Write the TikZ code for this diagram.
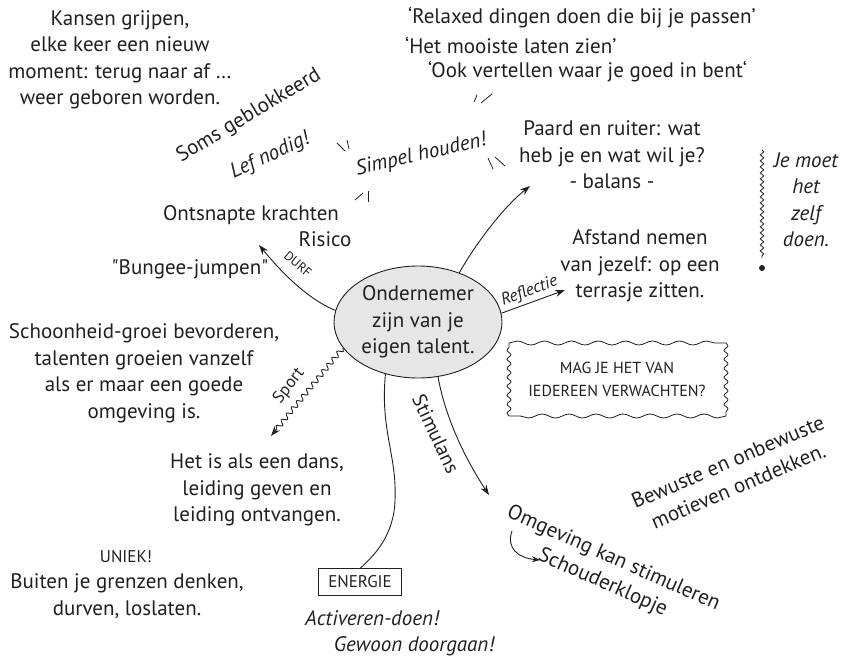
\documentclass[tikz,border=0pt]{standalone}
\usepackage{fontspec}
\setmainfont{PT Sans}[Ligatures=TeXOff]
\usetikzlibrary{shapes.geometric,arrows.meta,decorations.pathmorphing,calc}
\definecolor{ink}{HTML}{231F20}
\definecolor{fillgray}{HTML}{E6E6E6}
\begin{document}
\begin{tikzpicture}[x=1pt,y=-1pt,
  every node/.style={text=ink},
  txt/.style={align=center, font=\fontsize{21}{26.5}\selectfont, inner sep=0pt},
  itx/.style={align=center, font=\fontsize{21}{26.5}\selectfont\itshape, inner sep=0pt},
  smalltxt/.style={align=center, font=\fontsize{17}{22}\selectfont, inner sep=0pt},
  smallit/.style={align=center, font=\fontsize{17}{21}\selectfont\itshape, inner sep=0pt},
  tinytxt/.style={font=\fontsize{13}{15}\selectfont, inner sep=0pt},
  conn/.style={draw=ink, line width=0.9pt},
  arr/.style={conn, -{Stealth[length=10pt,width=7pt]}},
  ticks/.style={draw=ink, line width=0.8pt},
  wavy/.style={draw=ink, line width=0.8pt, decorate}]
\useasboundingbox (0,0) rectangle (842,658);

% centre
\node[ellipse, draw=ink, line width=0.9pt, fill=fillgray, minimum width=168pt, minimum height=112pt, txt] (core) at (418,322) {Ondernemer\\zijn van je\\eigen talent.};

% top left
\node[txt] (kansen) at (120,60) {Kansen grijpen,\\elke keer een nieuw\\moment: terug naar af …\\weer geboren worden.};
\node[txt, rotate=31] (soms) at (249,116) {Soms geblokkeerd};
\node[itx, rotate=25] (lef) at (270,156) {Lef nodig!};
\node[txt] (ontsn) at (251,215) {Ontsnapte krachten};
\node[txt] (risico) at (325,239) {Risico};

% quotes
\node[txt, anchor=west] (q1) at (408,18) {‘Relaxed dingen doen die bij je passen’};
\node[txt, anchor=west] (q2) at (405,45) {‘Het mooiste laten zien’};
\node[txt, anchor=west] (q3) at (428,72) {‘Ook vertellen waar je goed in bent‘};

% simpel houden
\node[itx, rotate=13] (simpel) at (421,155) {Simpel houden!};
\draw[ticks] (337,143) -- (345,151);
\draw[ticks] (347,140) -- (349,149);
\draw[ticks] (355,200) -- (363,193);
\draw[ticks] (368,191) -- (368,202);
\draw[ticks] (474,102) -- (477,95);
\draw[ticks] (481,103) -- (492,94);
\draw[ticks] (488,158) -- (493,169);
\draw[ticks] (495,157) -- (505,166);

% paard
\node[txt] (paard) at (612,155) {Paard en ruiter: wat\\heb je en wat wil je?\\- balans -};
\coordinate (paardtip) at (530,186);
\draw[arr] (core.50) .. controls (472,250) and (500,210) .. (paardtip);

% afstand
\node[txt] (afstand) at (640,266) {Afstand nemen\\van jezelf: op een\\terrasje zitten.};
\coordinate (reftip) at (565,290);
\draw[arr] (core.6) -- (reftip) node[midway, above=3pt, sloped, smallit] (reflabel) {Reflectie};

% je moet
\coordinate (wtop) at (762,150);
\coordinate (wbot) at (762,258);
\draw[wavy, decoration={snake, amplitude=1.8pt, segment length=6pt}] (wtop) -- (wbot);
\fill[ink] (762,268) circle (3pt);
\node[itx] (jemoet) at (806,200) {Je moet\\het\\zelf\\doen.};

% durf
\coordinate (durftip) at (259,245);
\draw[arr] (core.172) .. controls (305,298) and (278,268) .. (durftip);
\node[tinytxt, rotate=-40] (durf) at (298,264) {DURF};
\node[txt] (bungee) at (190,269) {"Bungee-jumpen"};

% schoonheid
\node[txt] (schoon) at (144,373) {Schoonheid-groei bevorderen,\\talenten groeien vanzelf\\als er maar een goede\\omgeving is.};

% sport
\coordinate (sporttip) at (271,436);
\draw[conn, decorate, decoration={snake, amplitude=2.5pt, segment length=8pt, post length=8pt}, -{Stealth[length=10pt,width=7pt]}] (core.199) -- (sporttip);
\node[smalltxt, rotate=52] (sport) at (289,386) {Sport};

% dans
\node[txt] (dans) at (257,490) {Het is als een dans,\\leiding geven en\\leiding ontvangen.};

% uniek
\node[smalltxt] (uniek) at (126,557) {UNIEK!};
\node[txt] (buiten) at (127,596) {Buiten je grenzen denken,\\durven, loslaten.};

% energie
\node[draw=ink, line width=0.9pt, smalltxt, inner xsep=10pt, inner ysep=7pt] (energie) at (360,582) {ENERGIE};
\draw[conn] (core.-122) .. controls (380,430) and (397,455) .. (395,500) .. controls (394,535) and (375,555) .. (energie.north);
\node[itx] (activ) at (372,618) {Activeren-doen!};
\node[itx] (gewoon) at (414,646) {Gewoon doorgaan!};

% stimulans
\coordinate (stimtip) at (489,495);
\draw[arr] (core.-70) .. controls (446,420) and (466,460) .. (stimtip);
\node[txt, font=\fontsize{20}{22}\selectfont, rotate=-65] (stim) at (436,434) {Stimulans};

% omgeving
\node[txt, rotate=-24] (omg) at (608,571) {Omgeving kan stimuleren\\Schouderklopje};
\coordinate (ctop) at (512,531);
\coordinate (ctip) at (540,560);
\draw[conn, -{Stealth[length=8pt,width=6pt]}] (ctop) .. controls (506,548) and (518,558) .. (ctip);

% mag je
\node[font=\fontsize{16}{23}\selectfont, align=center, inner sep=0pt] (mag) at (617,379) {MAG JE HET VAN\\IEDEREEN VERWACHTEN?};
\coordinate (mnw) at (509,343);
\coordinate (mne) at (726,343);
\coordinate (mse) at (726,416);
\coordinate (msw) at (509,416);
\draw[wavy, decoration={snake, amplitude=2pt, segment length=27pt}] (mnw) -- (mne);
\draw[wavy, decoration={snake, amplitude=2pt, segment length=27pt}] (mse) -- (msw);
\draw[wavy, decoration={snake, amplitude=2pt, segment length=9pt}] (mne) -- (mse);
\draw[wavy, decoration={snake, amplitude=2pt, segment length=9pt}] (msw) -- (mnw);

% bewuste
\node[txt, rotate=23] (bewuste) at (733,474) {Bewuste en onbewuste\\motieven ontdekken.};
\end{tikzpicture}
\end{document}
